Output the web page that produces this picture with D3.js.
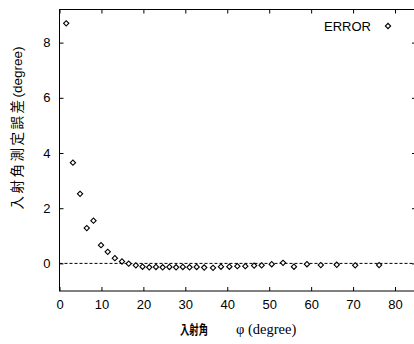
<!DOCTYPE html>
<html>
<head>
<meta charset="utf-8">
<script src="https://cdn.jsdelivr.net/npm/d3@7"></script>
<style>
  body { margin: 0; background: #fff; }
  svg { display: block; }
</style>
</head>
<body>
<div class="chart"></div>
<script>
// incident angle (degree) and measured error (degree)
let angles = [1.6, 3.2, 4.9, 6.5, 8.1, 9.9, 11.5, 13.2, 14.9, 16.5, 18.2, 19.8,
  21.4, 23.0, 24.6, 26.2, 27.8, 29.4, 31.0, 32.7, 34.5, 36.6, 38.5, 40.5,
  42.4, 44.3, 46.4, 48.2, 50.6, 53.3, 55.9, 59.0, 62.3, 66.1, 70.5, 76.2];
let errors = [8.70, 3.65, 2.52, 1.28, 1.55, 0.66, 0.42, 0.19, 0.07, -0.01, -0.07, -0.12,
  -0.14, -0.13, -0.14, -0.13, -0.14, -0.13, -0.14, -0.13, -0.15, -0.16, -0.12, -0.12,
  -0.10, -0.10, -0.08, -0.07, -0.03, 0.02, -0.12, -0.03, -0.06, -0.05, -0.07, -0.06];
let xTicks = [0, 10, 20, 30, 40, 50, 60, 70, 80];
let yTicks = [0, 2, 4, 6, 8];
let seriesName = "ERROR";

let fullWidth = 414, fullHeight = 344;
let margin = { top: 9.5, right: -2, left: 59.5, bottom: 53 };
let width = fullWidth - margin.left - margin.right;
let height = fullHeight - margin.top - margin.bottom;

let svg = d3.select('.chart')
  .append('svg')
    .attr('width', fullWidth)
    .attr('height', fullHeight)
  .append('g')
    .attr('transform', `translate(${margin.left}, ${margin.top})`);

let xScale = d3.scaleLinear().domain([0, 85]).range([0, width]);
let yScale = d3.scaleLinear().domain([-1, 9.2]).range([height, 0]);

let sans = "'Liberation Sans', Arial, sans-serif";
let cjk = "'Noto Sans CJK JP', sans-serif";
let serif = "'Liberation Serif', 'DejaVu Serif', serif";

function styleAxis(g, showText) {
  g.select('.domain').remove();
  g.selectAll('line').attr('stroke', '#000');
  g.selectAll('text')
    .attr('fill', '#000')
    .style('font-family', sans)
    .style('font-size', '13px');
  if (!showText) g.selectAll('text').remove();
}

// axes, ticks pointing inward on all four sides
svg.append('g')
  .attr('transform', `translate(0, ${height})`)
  .call(d3.axisBottom(xScale).tickValues(xTicks).tickSizeInner(-4).tickSizeOuter(0).tickPadding(9))
  .call(g => styleAxis(g, true));
svg.append('g')
  .call(d3.axisTop(xScale).tickValues(xTicks).tickSizeInner(-4).tickSizeOuter(0))
  .call(g => styleAxis(g, false));
svg.append('g')
  .call(d3.axisLeft(yScale).tickValues(yTicks).tickSizeInner(-4).tickSizeOuter(0).tickPadding(9))
  .call(g => styleAxis(g, true));
svg.append('g')
  .attr('transform', `translate(${width}, 0)`)
  .call(d3.axisRight(yScale).tickValues(yTicks).tickSizeInner(-4).tickSizeOuter(0))
  .call(g => styleAxis(g, false));

svg.append('rect')
  .attr('width', width)
  .attr('height', height)
  .attr('fill', 'none')
  .attr('stroke', '#000')
  .attr('stroke-width', 1);

// zero line
svg.append('line')
  .attr('x1', 0).attr('x2', width)
  .attr('y1', yScale(0)).attr('y2', yScale(0))
  .attr('stroke', '#000')
  .attr('stroke-width', 1)
  .attr('stroke-dasharray', '3,2');

// points
let diamond = d3.symbol().type(d3.symbolSquare).size(14);
svg.selectAll('.pt')
  .data(angles.map((a, i) => ({ x: a, y: errors[i] })))
  .enter()
  .append('path')
    .attr('class', 'pt')
    .attr('d', diamond)
    .attr('transform', d => `translate(${xScale(d.x)}, ${yScale(d.y)}) rotate(45)`)
    .attr('fill', '#fff')
    .attr('stroke', '#000')
    .attr('stroke-width', 1.1);

// legend
svg.append('text')
  .attr('x', 311.5)
  .attr('y', 21.5)
  .attr('text-anchor', 'end')
  .style('font-family', sans)
  .style('font-size', '13px')
  .text(seriesName);
svg.append('path')
  .attr('d', diamond)
  .attr('transform', 'translate(328.5, 16.5) rotate(45)')
  .attr('fill', '#fff')
  .attr('stroke', '#000')
  .attr('stroke-width', 1.1);

// x label
let xl = d3.select('svg').append('text')
  .attr('x', 180)
  .attr('y', 334);
xl.append('tspan')
  .style('font-family', cjk)
  .style('font-size', '13px')
  .style('font-weight', 'bold')
  .attr('textLength', 28)
  .attr('lengthAdjust', 'spacingAndGlyphs')
  .text('入射角');
xl.append('tspan')
  .attr('x', 236)
  .style('font-family', serif)
  .style('font-size', '14.5px')
  .text('φ (degree)');

// y label
let yl = d3.select('svg').append('text')
  .attr('transform', 'translate(21.5, 128) rotate(-90)')
  .attr('text-anchor', 'middle');
yl.append('tspan').style('font-family', cjk).style('font-size', '13.5px').attr('letter-spacing', '2.5px').text('入射角測定誤差');
yl.append('tspan').style('font-family', sans).style('font-size', '13.5px').text('(degree)');
</script>
</body>
</html>
